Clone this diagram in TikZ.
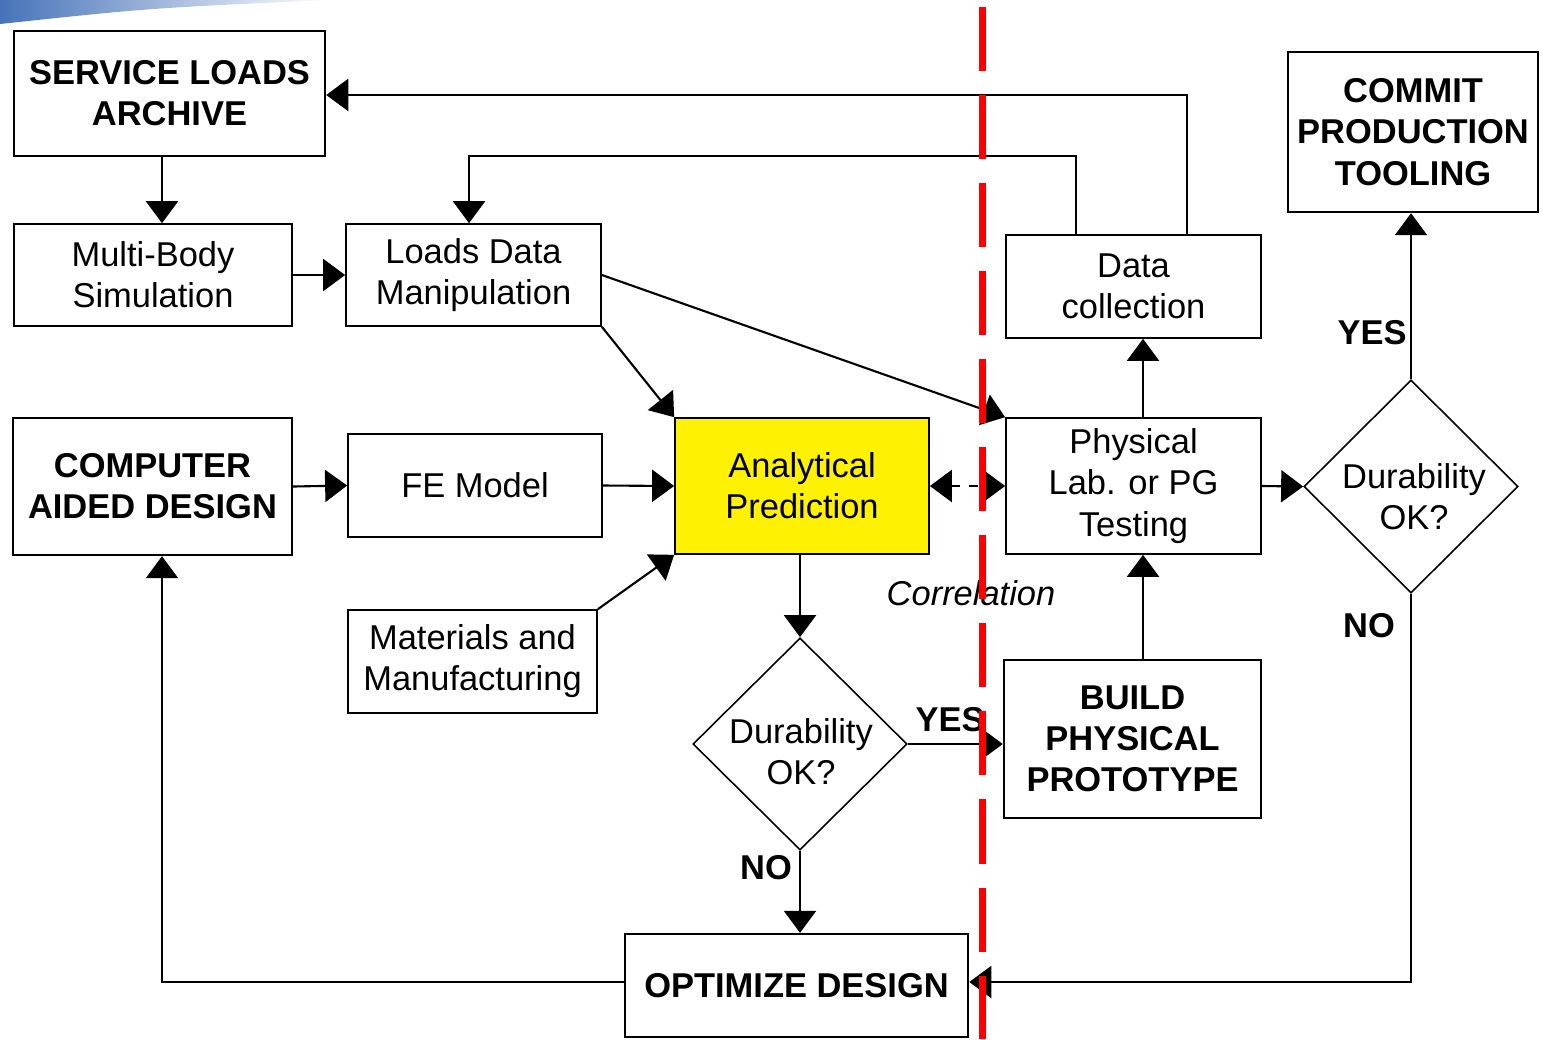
\documentclass[tikz,border=0pt]{standalone}
\usepackage{fontspec}
\setmainfont{Liberation Sans}
\usepackage{tikz}
\usetikzlibrary{arrows.meta}
\usetikzlibrary{shapes.geometric}
\definecolor{slideblue}{RGB}{70,115,185}

\begin{document}
\begin{tikzpicture}[x=0.01cm, y=-0.01cm,
    font=\fontsize{9.8}{11.7}\selectfont,
    box/.style={draw, line width=0.45pt, align=center, inner sep=0pt},
    bigbox/.style={box, line width=0.65pt, font=\fontsize{9.8}{11.7}\selectfont\bfseries},
    dia/.style={draw, diamond, line width=0.45pt, inner sep=0pt},
    link/.style={line width=0.6pt, -{Triangle[length=0.22cm,width=0.32cm]}},
    corr/.style={line width=0.6pt, dash pattern=on 2.5pt off 2.5pt,
      {Triangle[length=0.22cm,width=0.32cm]}-{Triangle[length=0.22cm,width=0.32cm]}},
    lab/.style={font=\fontsize{9.8}{11.7}\selectfont\bfseries}]
  \useasboundingbox (0,0) rectangle (1543,1039);

  % Slide corner
  \shade[left color=slideblue, right color=white] (0,0) -- (330,0) .. controls (150,8) .. (0,24) -- cycle;

  % Boxes
  \node[bigbox, minimum width=3.11cm, minimum height=1.25cm] (sla) at (169.5,93.5) {SERVICE LOADS\\ARCHIVE};
  \node[box, minimum width=2.78cm, minimum height=1.02cm] (mbs) at (153,275) {Multi-Body\\Simulation};
  \node[box, minimum width=2.55cm, minimum height=1.02cm] (ldm) at (473.5,275) {Loads Data\\Manipulation};
  \node[bigbox, minimum width=2.79cm, minimum height=1.37cm] (cad) at (152.5,486.5) {COMPUTER\\AIDED DESIGN};
  \node[box, minimum width=2.54cm, minimum height=1.03cm] (fem) at (475,485.5) {FE Model};
  \node[box, fill=yellow, minimum width=2.54cm, minimum height=1.36cm] (ana) at (802,486) {Analytical\\Prediction};
  \node[box, minimum width=2.49cm, minimum height=1.03cm] (mat) at (472.5,661.5) {Materials and\\Manufacturing};
  \node[box, minimum width=2.55cm, minimum height=1.03cm] (dat) at (1133.5,286.5) {Data\\collection};
  \node[box, minimum width=2.55cm, minimum height=1.36cm] (phy) at (1133.5,486) {Physical\\Lab. or PG\\Testing};
  \node[bigbox, minimum width=2.57cm, minimum height=1.58cm] (bpp) at (1132.5,739) {BUILD\\PHYSICAL\\PROTOTYPE};
  \node[bigbox, minimum width=2.50cm, minimum height=1.60cm] (cpt) at (1413,132) {COMMIT\\PRODUCTION\\TOOLING};
  \node[bigbox, minimum width=3.43cm, minimum height=1.03cm] (opt) at (796.5,985.5) {OPTIMIZE DESIGN};

  % Decisions
  \node[dia, minimum width=2.14cm, minimum height=2.12cm] (dk1) at (800,744) {};
  \node[align=center] (dk1t) at (801,752) {Durability\\OK?};
  \node[dia, minimum width=2.14cm, minimum height=2.13cm] (dk2) at (1411,486.5) {};
  \node[align=center] (dk2t) at (1414,497) {Durability\\OK?};

  % Corner points
  \coordinate (ra) at (1187,95);
  \coordinate (rb) at (1076,156);
  \coordinate (rc) at (469,156);
  \coordinate (cl) at (162,982);
  \coordinate (xv) at (1143,0);

  % Feedback from data collection
  \draw[link] (dat.north -| ra) -- (ra) -- (sla.east |- ra);
  \draw[link] (dat.north -| rb) -- (rb) -- (rc) -- (ldm.north -| rc);

  % Analysis side
  \draw[link] (sla.south -| cl) -- (mbs.north -| cl);
  \draw[link] (mbs.east) -- (ldm.west);
  \draw[link] (ldm.south east) -- (ana.north west);
  \draw[link] (ldm.east) -- (phy.north west);
  \draw[link] (cad.east) -- (fem.west);
  \draw[link] (fem.east) -- (ana.west);
  \draw[link] (mat.north east) -- (ana.south west);
  \draw[corr] (ana.east) -- (phy.west);
  \draw[link] (ana.south -| dk1.north) -- (dk1.north);
  \draw[link] (dk1.east) -- (bpp.west |- dk1.east);
  \draw[link] (dk1.south) -- (opt.north -| dk1.south);
  \draw[link] (opt.west |- cl) -- (cl) -- (cad.south -| cl);

  % Test side
  \draw[link] (bpp.north -| xv) -- (phy.south -| xv);
  \draw[link] (phy.north -| xv) -- (dat.south -| xv);
  \draw[link] (phy.east) -- (dk2.west);
  \draw[link] (dk2.north) -- (cpt.south -| dk2.north);
  \draw[link] (dk2.south) -- (dk2.south |- cl) -- (opt.east |- cl);

  % Labels
  \node[lab] (yes1) at (950,720) {YES};
  \node[lab] (no1) at (766,868) {NO};
  \node[lab] (yes2) at (1372,333) {YES};
  \node[lab] (no2) at (1369,626) {NO};
  \node[font=\fontsize{9.8}{11.7}\selectfont\itshape] (cor) at (971,593) {Correlation};

  % Divide line
  \draw[red, line width=0.07cm, dash pattern=on 0.64cm off 0.24cm] (982,7) -- (982,1039);
\end{tikzpicture}
\end{document}
